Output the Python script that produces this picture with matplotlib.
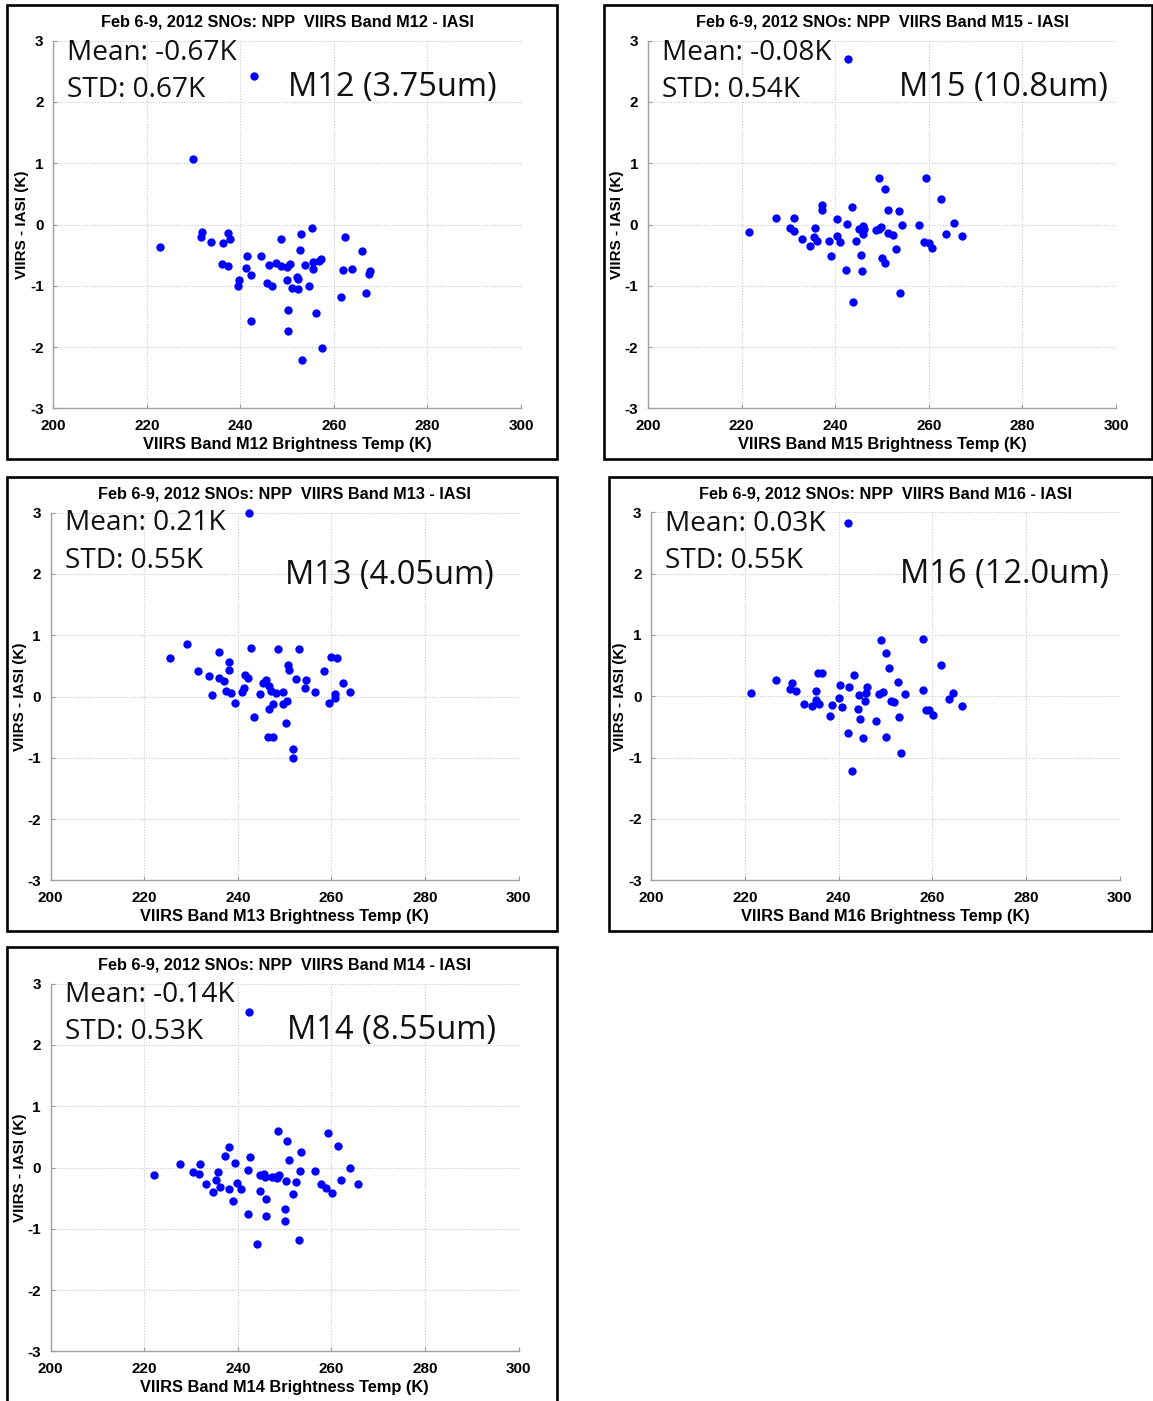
import matplotlib
matplotlib.use("Agg")
import matplotlib.pyplot as plt
from matplotlib.patches import Rectangle

# ---------------- data ----------------
m12_x = [243.0, 229.8, 222.9, 231.9, 231.5, 233.8, 236.3, 237.3, 237.8, 236.0, 237.3, 239.6,
         239.5, 241.4, 241.2, 242.2, 242.3, 244.4, 246.1, 245.7, 246.7, 247.7, 248.6, 248.7,
         249.9, 250.6, 250.0, 251.0, 250.2, 250.1, 252.1, 252.4, 252.4, 252.7, 252.9, 255.3,
         253.9, 254.6, 255.5, 255.6, 256.8, 257.3, 256.1, 253.2, 257.5, 262.3, 261.9, 263.9,
         261.5, 266.0, 266.8, 267.4, 267.8]
m12_y = [2.43, 1.07, -0.375, -0.125, -0.21, -0.28, -0.30, -0.14, -0.24, -0.64, -0.685, -0.91,
         -1.0, -0.52, -0.71, -0.82, -1.58, -0.52, -0.66, -0.95, -1.01, -0.625, -0.23, -0.685,
         -0.70, -0.65, -0.91, -1.03, -1.39, -1.74, -0.85, -0.89, -1.05, -0.42, -0.15, -0.065,
         -0.66, -1.0, -0.73, -0.62, -0.59, -0.57, -1.44, -2.21, -2.01, -0.20, -0.745, -0.73,
         -1.18, -0.435, -1.12, -0.80, -0.76]

m15_x = [242.65, 221.5, 227.4, 230.3, 231.3, 231.3, 232.9, 234.6, 235.7, 235.4, 236.1, 237.2,
         237.2, 238.7, 239.0, 240.3, 240.3, 241.0, 242.4, 242.6, 243.6, 243.8, 244.5, 245.1,
         245.6, 245.7, 246.0, 246.0, 246.2, 248.8, 249.3, 249.4, 249.8, 249.9, 250.7, 250.7,
         251.3, 251.3, 252.4, 252.9, 253.7, 253.8, 254.3, 258.0, 258.9, 259.5, 260.1, 260.7,
         262.5, 263.6, 265.4, 267.1]
m15_y = [2.70, -0.12, 0.11, -0.05, 0.10, -0.10, -0.24, -0.35, -0.05, -0.20, -0.27, 0.32,
         0.23, -0.27, -0.51, 0.09, -0.19, -0.29, -0.74, 0.01, 0.29, -1.27, -0.27, -0.08,
         -0.49, -0.76, -0.02, -0.15, -0.08, -0.09, 0.76, -0.07, -0.04, -0.55, 0.58, -0.63,
         0.24, -0.14, -0.17, -0.40, 0.22, -1.11, 0.00, -0.01, -0.28, 0.76, -0.31, -0.39,
         0.41, -0.15, 0.03, -0.19]

m13_x = [242.4, 225.4, 229.1, 231.5, 233.8, 234.4, 236.0, 235.9, 237.1, 237.5, 238.1, 238.2,
         238.5, 239.4, 240.8, 241.4, 241.5, 242.1, 242.9, 243.4, 244.7, 245.4, 246.0, 246.6,
         246.6, 246.4, 247.0, 247.6, 247.6, 248.2, 248.5, 249.6, 249.7, 250.3, 250.5, 250.7,
         250.9, 251.8, 251.8, 252.4, 253.0, 254.3, 254.5, 256.5, 258.5, 259.4, 260.0, 260.8,
         260.8, 261.1, 262.5, 264.0]
m13_y = [2.99, 0.63, 0.85, 0.42, 0.34, 0.03, 0.73, 0.30, 0.245, 0.09, 0.56, 0.43,
         0.05, -0.11, 0.07, 0.14, 0.35, 0.30, 0.79, -0.33, 0.04, 0.22, 0.27, 0.17,
         -0.21, -0.66, 0.09, -0.12, -0.66, 0.05, 0.77, 0.08, -0.13, -0.43, -0.07, 0.51,
         0.44, -0.865, -1.0, 0.28, 0.78, 0.14, 0.27, 0.07, 0.42, -0.11, 0.64, 0.04,
         -0.02, 0.63, 0.22, 0.07]

m16_x = [242.0, 221.3, 226.7, 230.1, 229.7, 230.8, 232.7, 234.3, 235.1, 235.2, 235.8, 235.6,
         236.5, 238.1, 238.6, 240.2, 240.1, 240.7, 241.9, 242.3, 242.9, 243.2, 244.2, 244.5,
         244.4, 245.1, 245.7, 245.9, 246.0, 247.9, 248.5, 249.1, 249.5, 250.1, 250.1, 250.8,
         251.1, 251.9, 252.6, 252.8, 253.2, 254.1, 257.9, 258.1, 258.7, 259.2, 260.2, 261.8,
         263.5, 264.3, 266.4]
m16_y = [2.83, 0.05, 0.26, 0.21, 0.12, 0.08, -0.12, -0.16, 0.09, -0.06, -0.12, 0.38,
         0.38, -0.32, -0.14, 0.19, -0.02, -0.17, -0.60, 0.15, -1.21, 0.34, -0.20, -0.37,
         0.02, -0.68, -0.08, 0.06, 0.155, -0.40, 0.03, 0.92, 0.07, 0.70, -0.67, 0.46,
         -0.07, -0.09, 0.24, -0.33, -0.93, 0.04, 0.10, 0.93, -0.22, -0.23, -0.31, 0.51,
         -0.04, 0.06, -0.155]

m14_x = [242.4, 222.1, 227.6, 230.5, 231.7, 232.0, 233.1, 234.7, 235.7, 235.3, 236.2, 237.2,
         238.2, 238.0, 238.9, 239.3, 239.9, 240.6, 242.1, 242.7, 242.2, 244.0, 244.7, 244.8,
         245.5, 245.7, 246.0, 246.0, 247.2, 247.9, 248.4, 248.5, 248.8, 250.0, 250.0, 250.3,
         250.5, 251.0, 251.7, 252.4, 253.0, 253.3, 253.4, 256.5, 257.7, 258.8, 259.2, 260.1,
         261.4, 262.1, 264.0, 265.6]
m14_y = [2.53, -0.13, 0.065, -0.08, -0.11, 0.065, -0.27, -0.40, -0.08, -0.21, -0.315, 0.19,
         0.33, -0.35, -0.54, 0.07, -0.25, -0.35, -0.045, 0.17, -0.76, -1.255, -0.38, -0.13,
         -0.10, -0.16, -0.51, -0.79, -0.16, -0.16, -0.17, 0.59, -0.13, -0.67, -0.875, -0.22,
         0.435, 0.13, -0.44, -0.23, -1.18, -0.05, 0.26, -0.05, -0.27, -0.34, 0.56, -0.42,
         0.35, -0.20, -0.01, -0.27]

bands = ["M12", "M15", "M13", "M16", "M14"]
band_labels = ["M12 (3.75um)", "M15 (10.8um)", "M13 (4.05um)", "M16 (12.0um)", "M14 (8.55um)"]
means = ["-0.67K", "-0.08K", "0.21K", "0.03K", "-0.14K"]
stds = ["0.67K", "0.54K", "0.55K", "0.55K", "0.53K"]
xs = [m12_x, m15_x, m13_x, m16_x, m14_x]
ys = [m12_y, m15_y, m13_y, m16_y, m14_y]

x_ticks = [200, 220, 240, 260, 280, 300]
y_ticks = [-3, -2, -1, 0, 1, 2, 3]

# ---------------- layout (pixels) ----------------
W, H = 1153, 1401
fig = plt.figure(figsize=(W / 100, H / 100), dpi=100)

axes_px = [(53.3, 40.7, 521.0, 408.3), (648.0, 40.7, 1116.0, 408.3),
           (50.7, 512.7, 518.6, 880.3), (651.3, 512.3, 1119.8, 880.3),
           (50.7, 983.7, 518.6, 1351.3)]
box_px = [(6.7, 4.7, 556.7, 459.3), (604.0, 5.3, 1152.0, 459.3),
          (6.7, 476.7, 556.7, 931.0), (608.7, 476.7, 1152.0, 931.0),
          (6.7, 947.3, 556.7, 1403.0)]
label_pos = [(250.2, 2.09), (253.7, 2.09), (250.1, 1.84), (253.1, 1.85), (250.6, 2.10)]
mean_y = [2.69, 2.69, 2.71, 2.70, 2.70]
std_y = [2.08, 2.08, 2.10, 2.09, 2.09]

bold = dict(family="Liberation Sans", weight="bold")
anno_font = "Open Sans"

for i in range(5):
    x0, y0, x1, y1 = axes_px[i]
    ax = fig.add_axes([x0 / W, 1 - y1 / H, (x1 - x0) / W, (y1 - y0) / H])
    ax.plot(xs[i], ys[i], "o", color="#0000ff", markersize=6.0, markeredgewidth=0,
            zorder=3, clip_on=False)
    ax.set_xlim(200, 300)
    ax.set_ylim(-3, 3)
    ax.set_xticks(x_ticks)
    ax.set_yticks(y_ticks)
    ax.set_xticklabels([str(t) for t in x_ticks], fontdict=dict(size=11, **bold))
    ax.set_yticklabels([str(t) for t in y_ticks], fontdict=dict(size=11, **bold))
    ax.tick_params(direction="in", length=3, width=0.8, color="#999999", pad=7)
    ax.tick_params(axis="x", pad=8)
    ax.grid(True, color="#c8c8c8", linestyle=(0, (1, 1.5)), linewidth=0.8)
    ax.set_axisbelow(True)
    for s in ["top", "right"]:
        ax.spines[s].set_visible(False)
    for s in ["left", "bottom"]:
        ax.spines[s].set_color("#a0a0a0")
        ax.spines[s].set_linewidth(1.0)
    ax.set_title("Feb 6-9, 2012 SNOs: NPP  VIIRS Band %s - IASI" % bands[i],
                 fontsize=11.7, pad=10.0, **bold)
    ax.set_xlabel("VIIRS Band %s Brightness Temp (K)" % bands[i], fontsize=11.8,
                  labelpad=2.5, **bold)
    ax.set_ylabel("VIIRS - IASI (K)", fontsize=11, labelpad=0.5, **bold)
    ax.text(203.0, mean_y[i], "Mean: " + means[i], family=anno_font, fontsize=20.2,
            va="baseline", ha="left", color="#111111")
    ax.text(203.0, std_y[i], "STD: " + stds[i], family=anno_font, fontsize=20.2,
            va="baseline", ha="left", color="#111111")
    ax.text(label_pos[i][0], label_pos[i][1], band_labels[i], family=anno_font,
            fontsize=23.5, va="baseline", ha="left", color="#111111")

for (bx0, by0, bx1, by1) in box_px:
    fig.patches.append(Rectangle((bx0 / W, 1 - by1 / H), (bx1 - bx0) / W, (by1 - by0) / H,
                                 transform=fig.transFigure, fill=False,
                                 edgecolor="black", linewidth=1.9))

fig.savefig("out.png", dpi=100)
